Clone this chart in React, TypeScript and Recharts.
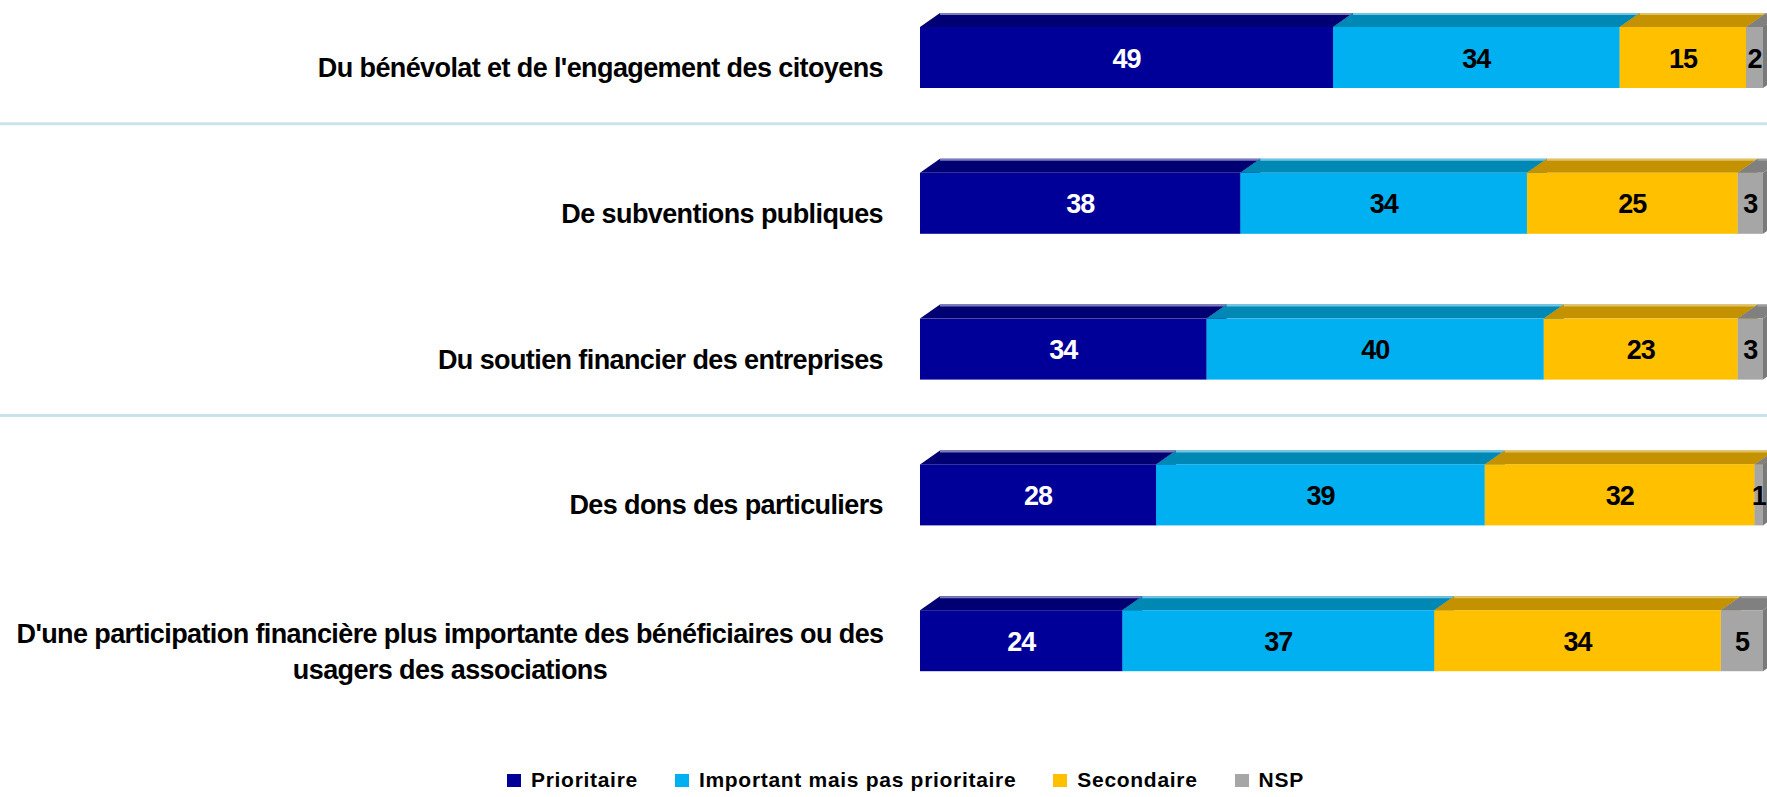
import React from "react";
import {
  BarChart,
  Bar,
  XAxis,
  YAxis,
  LabelList,
  Legend,
  ReferenceLine,
} from "recharts";

const categories = [
  "Du bénévolat et de l'engagement des citoyens",
  "De subventions publiques",
  "Du soutien financier des entreprises",
  "Des dons des particuliers",
  "D'une participation financière plus importante des bénéficiaires ou des\nusagers des associations",
];

const prioritaire = [49, 38, 34, 28, 24];
const important = [34, 34, 40, 39, 37];
const secondaire = [15, 25, 23, 32, 34];
const nsp = [2, 3, 3, 1, 5];

const seriesNames = [
  "Prioritaire",
  "Important mais pas prioritaire",
  "Secondaire",
  "NSP",
];

// separators drawn under these categories
const separatorsAfter = [categories[0], categories[2]];

const data = categories.map((name, i) => ({
  name,
  prioritaire: prioritaire[i],
  important: important[i],
  secondaire: secondaire[i],
  nsp: nsp[i],
}));

const FONT = "'Liberation Sans', Arial, sans-serif";
const DX = 20;
const DY = 14;

type Palette = { front: string; top: string; edge: string; side: string };

const palettes: Palette[] = [
  { front: "#000099", top: "#000072", edge: "#7c7cbc", side: "#000072" },
  { front: "#00B0F0", top: "#0088B5", edge: "#70c6e2", side: "#0088B5" },
  { front: "#FFC000", top: "#C49200", edge: "#e0c266", side: "#C49200" },
  { front: "#A6A6A6", top: "#808080", edge: "#a0a0a0", side: "#7a7a7a" },
];

const labelColors = ["#ffffff", "#000000", "#000000", "#000000"];

const makeShape = (p: Palette) => (props: any) => {
  const { x, y, width, height } = props;
  if (width == null || width <= 0) return <g />;
  const fy = y + DY;
  return (
    <g>
      <polygon
        points={`${x + width},${fy} ${x + width + DX},${y} ${x + width + DX},${y + height - DY} ${x + width},${y + height}`}
        fill={p.side}
      />
      <polygon
        points={`${x},${fy} ${x + DX},${y} ${x + width + DX},${y} ${x + width},${fy}`}
        fill={p.top}
      />
      <line
        x1={x + DX}
        y1={y + 1}
        x2={x + width + DX}
        y2={y + 1}
        stroke={p.edge}
        strokeWidth={2}
      />
      <rect x={x} y={fy} width={width} height={height - DY} fill={p.front} />
    </g>
  );
};

const makeLabel = (color: string) => (props: any) => {
  const vb = props.viewBox || {};
  const x = props.x ?? vb.x;
  const y = props.y ?? vb.y;
  const width = props.width ?? vb.width;
  const height = props.height ?? vb.height;
  const cy = y + DY + (height - DY) / 2;
  return (
    <text
      x={x + width / 2}
      y={cy + 10}
      textAnchor="middle"
      fill={color}
      fontFamily={FONT}
      fontWeight="bold"
      fontSize={27}
      letterSpacing={-1}
    >
      {props.value}
    </text>
  );
};

const CategoryTick = (props: any) => {
  const { x, y, payload } = props;
  const lines: string[] = String(payload.value).split("\n");
  const common = {
    fill: "#000000",
    fontFamily: FONT,
    fontWeight: "bold" as const,
    fontSize: 27,
    letterSpacing: -0.6,
  };
  if (lines.length === 1) {
    return (
      <text x={x} y={y + 26} textAnchor="end" {...common}>
        {lines[0]}
      </text>
    );
  }
  return (
    <g>
      {lines.map((l, i) => (
        <text
          key={i}
          x={x - 433}
          y={y + 9 + i * 36}
          textAnchor="middle"
          {...common}
        >
          {l}
        </text>
      ))}
    </g>
  );
};

const renderLegend = (props: any) => {
  const items = [...(props.payload || [])].sort(
    (a: any, b: any) => seriesNames.indexOf(a.value) - seriesNames.indexOf(b.value)
  );
  return (
    <div
      style={{
        display: "flex",
        alignItems: "center",
        whiteSpace: "nowrap",
        fontFamily: FONT,
        fontWeight: "bold",
        fontSize: 21,
        letterSpacing: 0.7,
        lineHeight: "22px",
      }}
    >
      {items.map((entry: any, i: number) => (
        <div
          key={i}
          style={{ display: "flex", alignItems: "center", marginRight: 37 }}
        >
          <span
            style={{
              display: "inline-block",
              width: 14,
              height: 13,
              background: entry.color,
              marginRight: 10,
            }}
          />
          <span>{entry.value}</span>
        </div>
      ))}
    </div>
  );
};

const keys = ["prioritaire", "important", "secondaire", "nsp"];

export default function App() {
  return (
    <div style={{ position: "absolute", left: 0, top: 0, background: "#fff" }}>
      <BarChart
        width={1767}
        height={797}
        data={data}
        layout="vertical"
        barSize={75}
        margin={{ top: -22, right: 4, bottom: 90, left: 0 }}
      >
        <XAxis type="number" domain={[0, 100]} hide />
        <YAxis
          type="category"
          dataKey="name"
          width={920}
          axisLine={false}
          tickLine={false}
          tickSize={0}
          tickMargin={37}
          interval={0}
          tick={<CategoryTick />}
        />
        {separatorsAfter.map((c) => (
          <ReferenceLine
            key={c}
            y={c}
            position="end"
            stroke="#c9e3ea"
            strokeWidth={3}
            shape={(p: any) => (
              <line
                x1={0}
                x2={1767}
                y1={p.y1}
                y2={p.y2}
                stroke="#c9e3ea"
                strokeWidth={3}
              />
            )}
          />
        ))}
        {keys.map((k, i) => (
          <Bar
            key={k}
            dataKey={k}
            name={seriesNames[i]}
            stackId="a"
            fill={palettes[i].front}
            isAnimationActive={false}
            shape={makeShape(palettes[i])}
          >
            <LabelList dataKey={k} content={makeLabel(labelColors[i])} />
          </Bar>
        ))}
        <Legend
          verticalAlign="middle"
          align="center"
          layout="horizontal"
          wrapperStyle={{ top: 769, left: 507, width: "auto" }}
          content={renderLegend}
        />
      </BarChart>
    </div>
  );
}
